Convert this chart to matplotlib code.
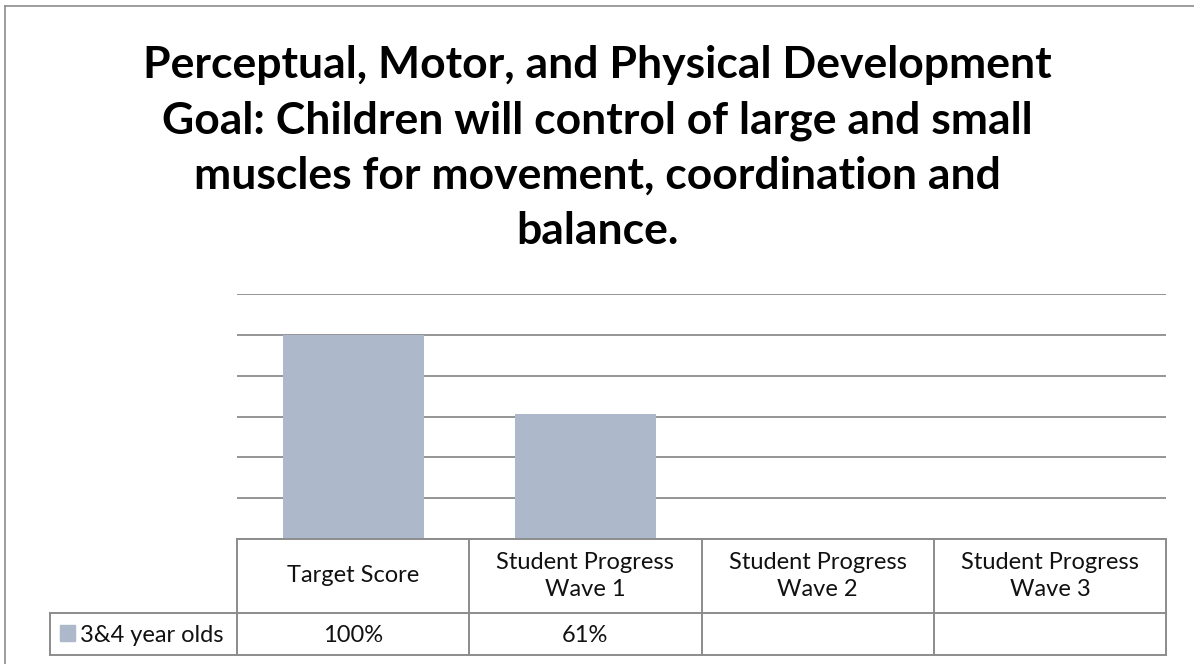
import numpy as np
import matplotlib
matplotlib.use("Agg")
import matplotlib.pyplot as plt
import matplotlib.transforms as mtransforms
from matplotlib.patches import Rectangle

# data
categories = ["Target Score", "Student Progress\nWave 1",
              "Student Progress\nWave 2", "Student Progress\nWave 3"]
series_name = "3&4 year olds"
values = [1.00, 0.61, np.nan, np.nan]
value_labels = ["100%", "61%", "", ""]
title = ("Perceptual, Motor, and Physical Development\n"
         "Goal: Children will control of large and small\n"
         "muscles for movement, coordination and\n"
         "balance.")

BAR_COLOR = "#adb9ca"
LINE_COLOR = "#8c8c8c"

plt.rcParams['font.family'] = ['Lato', 'DejaVu Sans']

W, H = 1194, 664
fig = plt.figure(figsize=(W / 100, H / 100), dpi=100)


def fx(px):
    return px / W


def fy(py):
    return 1 - py / H


# plot area (pixel layout)
left, right, top, base = 237, 1166, 294, 539
ax = fig.add_axes([fx(left), fy(base), fx(right - left), (base - top) / H])
x = np.arange(len(categories))
ax.bar(x, values, width=0.607, color=BAR_COLOR, zorder=2)
ax.set_xlim(-0.5, len(categories) - 0.5)
ax.set_ylim(0, 1.2)
ax.set_yticks(np.arange(0, 1.21, 0.2))
ax.grid(axis="y", color=LINE_COLOR, linewidth=1.3, zorder=1)
ax.tick_params(left=False, bottom=False, labelleft=False, labelbottom=False)
for s in ax.spines.values():
    s.set_visible(False)

# data table under the plot
tr = mtransforms.blended_transform_factory(ax.transData, fig.transFigure)
row1, row2, row3 = 539, 613, 655
lw = 1.4
ax.plot([-0.5, 3.5], [fy(row1)] * 2, color=LINE_COLOR, lw=lw, transform=tr, clip_on=False)
ax.plot([-0.5, 3.5], [fy(row2)] * 2, color=LINE_COLOR, lw=lw, transform=tr, clip_on=False)
for b in np.arange(-0.5, len(categories), 1.0):
    ax.plot([b, b], [fy(row1), fy(row3)], color=LINE_COLOR, lw=lw, transform=tr, clip_on=False)
# legend cell
fig.add_artist(plt.Line2D([fx(50), fx(right)], [fy(row3)] * 2, color=LINE_COLOR, lw=lw))
fig.add_artist(plt.Line2D([fx(50), fx(left)], [fy(row2)] * 2, color=LINE_COLOR, lw=lw))
fig.add_artist(plt.Line2D([fx(50), fx(50)], [fy(row2), fy(row3)], color=LINE_COLOR, lw=lw))

for i, cat in enumerate(categories):
    ax.text(i, fy((row1 + row2) / 2), cat, transform=tr, ha="center", va="center",
            fontsize=17, linespacing=1.3, color="#111111")
    ax.text(i, fy((row2 + row3) / 2 + 1), value_labels[i], transform=tr, ha="center",
            va="center", fontsize=17, color="#111111")

fig.add_artist(Rectangle((fx(60), fy(641)), fx(15), 16 / H, color=BAR_COLOR))
fig.text(fx(80), fy((row2 + row3) / 2 + 1), series_name, ha="left", va="center",
         fontsize=17, color="#111111")

# title
fig.text(0.5, fy(148), title, ha="center", va="center", fontsize=32,
         fontweight="bold", linespacing=1.45, color="#000000")

# chart border (left and top visible)
fig.add_artist(plt.Line2D([fx(4.5), fx(4.5)], [fy(6), 0], color=LINE_COLOR, lw=1.2))
fig.add_artist(plt.Line2D([fx(4.5), 1], [fy(6), fy(6)], color=LINE_COLOR, lw=1.2))

fig.savefig("out.png", dpi=100)
